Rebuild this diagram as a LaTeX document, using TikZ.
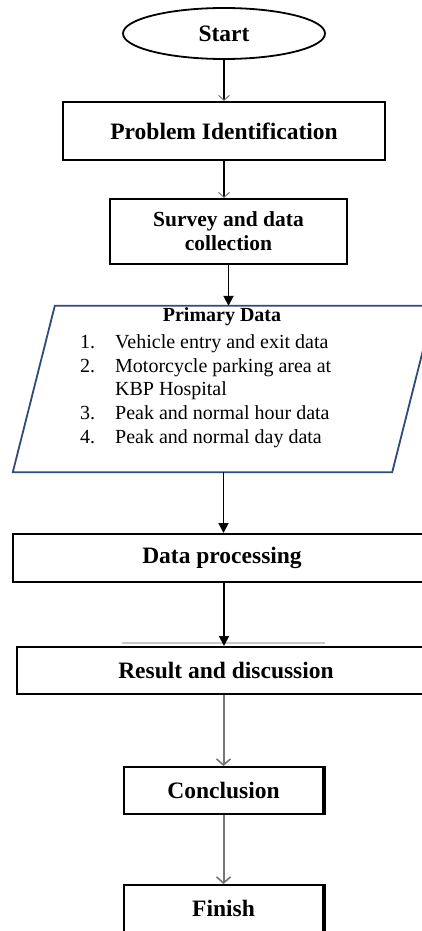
\documentclass[tikz,border=0pt]{standalone}
\usepackage{fontspec}
\setmainfont{Liberation Serif}
\usetikzlibrary{shapes.geometric,arrows.meta,calc}

\definecolor{pdblue}{RGB}{47,75,120}
\definecolor{arrowgray}{RGB}{118,118,118}
\definecolor{fadegray}{RGB}{200,200,200}

\begin{document}
\begin{tikzpicture}[x=1pt,y=-1pt,
  head/.style={font=\fontsize{23.5}{28}\selectfont\bfseries},
  stepbox/.style={draw=black, line width=2pt, rectangle, inner sep=0pt, align=center, head},
  itemtext/.style={anchor=base west, inner sep=0pt, font=\fontsize{20}{24}\selectfont},
  thinflow/.style={draw=black, line width=1.4pt, -{Straight Barb[length=5pt,width=11pt,color=arrowgray,line width=1pt]}},
  solidflow/.style={draw=black, line width=1.8pt, -{Triangle[length=10pt,width=10pt]}},
  grayflow/.style={draw=arrowgray, line width=2pt, -{Straight Barb[length=6pt,width=14pt,line width=1.6pt]}}
]
\clip (0,0) rectangle (422,931);

% terminal and process boxes
\node[draw, ellipse, line width=1.8pt, minimum width=202pt, minimum height=51pt, inner sep=0pt, head] (start) at (224,33.5) {\raisebox{-4pt}{Start}};
\node[stepbox, minimum width=322pt, minimum height=58pt] (prob) at (224,131) {Problem Identification};
\node[stepbox, minimum width=237pt, minimum height=65pt, font=\fontsize{21.5}{24}\selectfont\bfseries] (survey) at (228.5,231.5) {Survey and data\\collection};

% input/output block for the primary data
\node[minimum width=379pt, minimum height=166pt, inner sep=0pt] (pd) at (223.5,389) {};
\draw[pdblue, line width=1.8pt]
  ($(pd.north west)+(21,0)$) -- ($(pd.north east)+(21,0)$) --
  ($(pd.south east)+(-21,0)$) -- ($(pd.south west)+(-21,0)$) -- cycle;
\node[font=\fontsize{20}{24}\selectfont\bfseries] (pdtitle) at (222,317) {Primary Data};
\node[itemtext] (n1) at (80,348) {1.};
\node[itemtext] (t1) at (115,348) {Vehicle entry and exit data};
\node[itemtext] (n2) at (80,372) {2.};
\node[itemtext] (t2) at (115,372) {Motorcycle parking area at};
\node[itemtext] (t2b) at (115,395) {KBP Hospital};
\node[itemtext] (n3) at (80,419) {3.};
\node[itemtext] (t3) at (115,419) {Peak and normal hour data};
\node[itemtext] (n4) at (80,443) {4.};
\node[itemtext] (t4) at (115,443) {Peak and normal day data};

\node[stepbox, minimum width=418pt, minimum height=48pt] (data) at (222,558) {Data processing};
\node[stepbox, minimum width=418pt, minimum height=47pt] (result) at (226,670.5) {Result and discussion};
\draw[fadegray, line width=1.5pt] ($(result.north)+(-104,-3)$) -- ($(result.north)+(99,-3)$);
\node[stepbox, minimum width=199pt, minimum height=47pt] (concl) at (223.5,790.5) {Conclusion};
\node[stepbox, minimum width=199pt, minimum height=47pt] (finish) at (223.5,908.5) {Finish};
\draw[line width=2pt] ($(concl.north east)+(1,0)$) -- ($(concl.south east)+(1,0)$);
\draw[line width=2pt] ($(finish.north east)+(1,0)$) -- ($(finish.south east)+(1,0)$);

% connectors
\draw[thinflow] (start.south) -- (prob.north);
\draw[thinflow] (prob.south) -- (prob.south |- survey.north);
\draw[solidflow] (survey.south) -- (survey.south |- pd.north);
\draw[solidflow] (pd.south) -- (pd.south |- data.north);
\draw[solidflow] ($(data.south)+(2,0)$) -- ($(data.south |- result.north)+(2,0)$);
\draw[grayflow] (concl.north |- result.south) -- (concl.north);
\draw[grayflow] (concl.south) -- (finish.north);
\end{tikzpicture}
\end{document}
